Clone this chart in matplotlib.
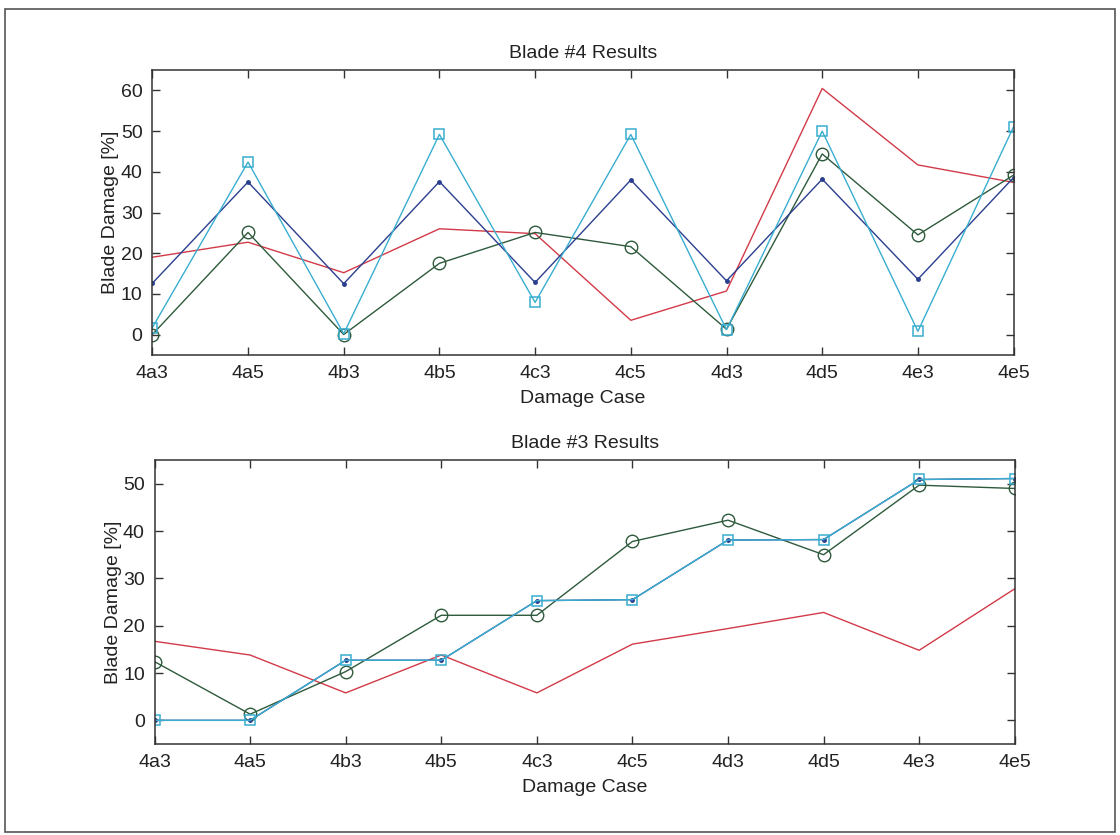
import numpy as np
import matplotlib.pyplot as plt
from matplotlib.patches import Rectangle

plt.rcParams['font.family'] = ['Liberation Sans', 'DejaVu Sans']

cases = ['4a3', '4a5', '4b3', '4b5', '4c3', '4c5', '4d3', '4d5', '4e3', '4e5']

# Blade #4
b4_blue = [12.6, 37.5, 12.5, 37.6, 12.8, 38.0, 13.2, 38.2, 13.6, 38.6]
b4_cyan = [1.7, 42.4, 0.2, 49.2, 7.9, 49.2, 1.2, 50.0, 0.8, 51.1]
b4_green = [0.0, 25.1, 0.0, 17.5, 25.1, 21.6, 1.3, 44.4, 24.5, 39.2]
b4_red = [19.0, 22.7, 15.2, 26.0, 24.8, 3.5, 10.7, 60.5, 41.7, 37.4]

# Blade #3
b3_blue = [0.0, 0.0, 12.7, 12.7, 25.3, 25.5, 38.1, 38.2, 50.9, 51.1]
b3_cyan = [0.0, 0.0, 12.7, 12.7, 25.3, 25.5, 38.1, 38.2, 50.9, 51.1]
b3_green = [12.4, 1.3, 10.3, 22.2, 22.2, 37.8, 42.3, 35.0, 49.7, 49.0]
b3_red = [16.7, 13.8, 5.8, 13.8, 5.8, 16.1, 19.4, 22.8, 14.8, 27.8]

c_blue = '#2b3f8f'
c_cyan = '#39aed0'
c_green = '#2e5a3c'
c_red = '#d23a48'

fig = plt.figure(figsize=(11.2, 8.35), dpi=100)
fig.patches.append(Rectangle((5 / 1120, 3 / 835), 1110 / 1120, 823 / 835,
                             transform=fig.transFigure, fill=False,
                             edgecolor='#555555', linewidth=1.2))

ax1 = fig.add_axes([0.136, 0.575, 0.769, 0.341])
ax2 = fig.add_axes([0.138, 0.109, 0.768, 0.340])

x = np.arange(len(cases))


def draw(ax, blue, cyan, green, red, title, ylim, yticks):
    ax.plot(x, red, '-', color=c_red, lw=1.0)
    ax.plot(x, green, '-o', color=c_green, lw=1.0, ms=9, mfc='none', mew=1.0)
    ax.plot(x, blue, '-', color=c_blue, lw=1.0, marker='.', ms=5)
    ax.plot(x, cyan, '-s', color=c_cyan, lw=1.0, ms=7, mfc='none', mew=1.1)
    ax.set_xlim(0, len(cases) - 1)
    ax.set_ylim(*ylim)
    ax.set_yticks(yticks)
    ax.set_xticks(x)
    ax.set_xticklabels(cases)
    ax.tick_params(direction='in', length=6, width=1, top=True, right=True,
                   labelsize=14, colors='#333333', labelcolor='#222222', pad=7)
    for s in ax.spines.values():
        s.set_color('#333333')
        s.set_linewidth(1.1)
    ax.set_title(title, fontsize=14, color='#222222', pad=9)
    ax.set_xlabel('Damage Case', fontsize=14, color='#222222', labelpad=6)
    ax.set_ylabel('Blade Damage [%]', fontsize=14, color='#222222', labelpad=1)


draw(ax1, b4_blue, b4_cyan, b4_green, b4_red, 'Blade #4 Results',
     (-5, 65), [0, 10, 20, 30, 40, 50, 60])
draw(ax2, b3_blue, b3_cyan, b3_green, b3_red, 'Blade #3 Results',
     (-5, 55), [0, 10, 20, 30, 40, 50])

fig.savefig('out.png', dpi=100)
